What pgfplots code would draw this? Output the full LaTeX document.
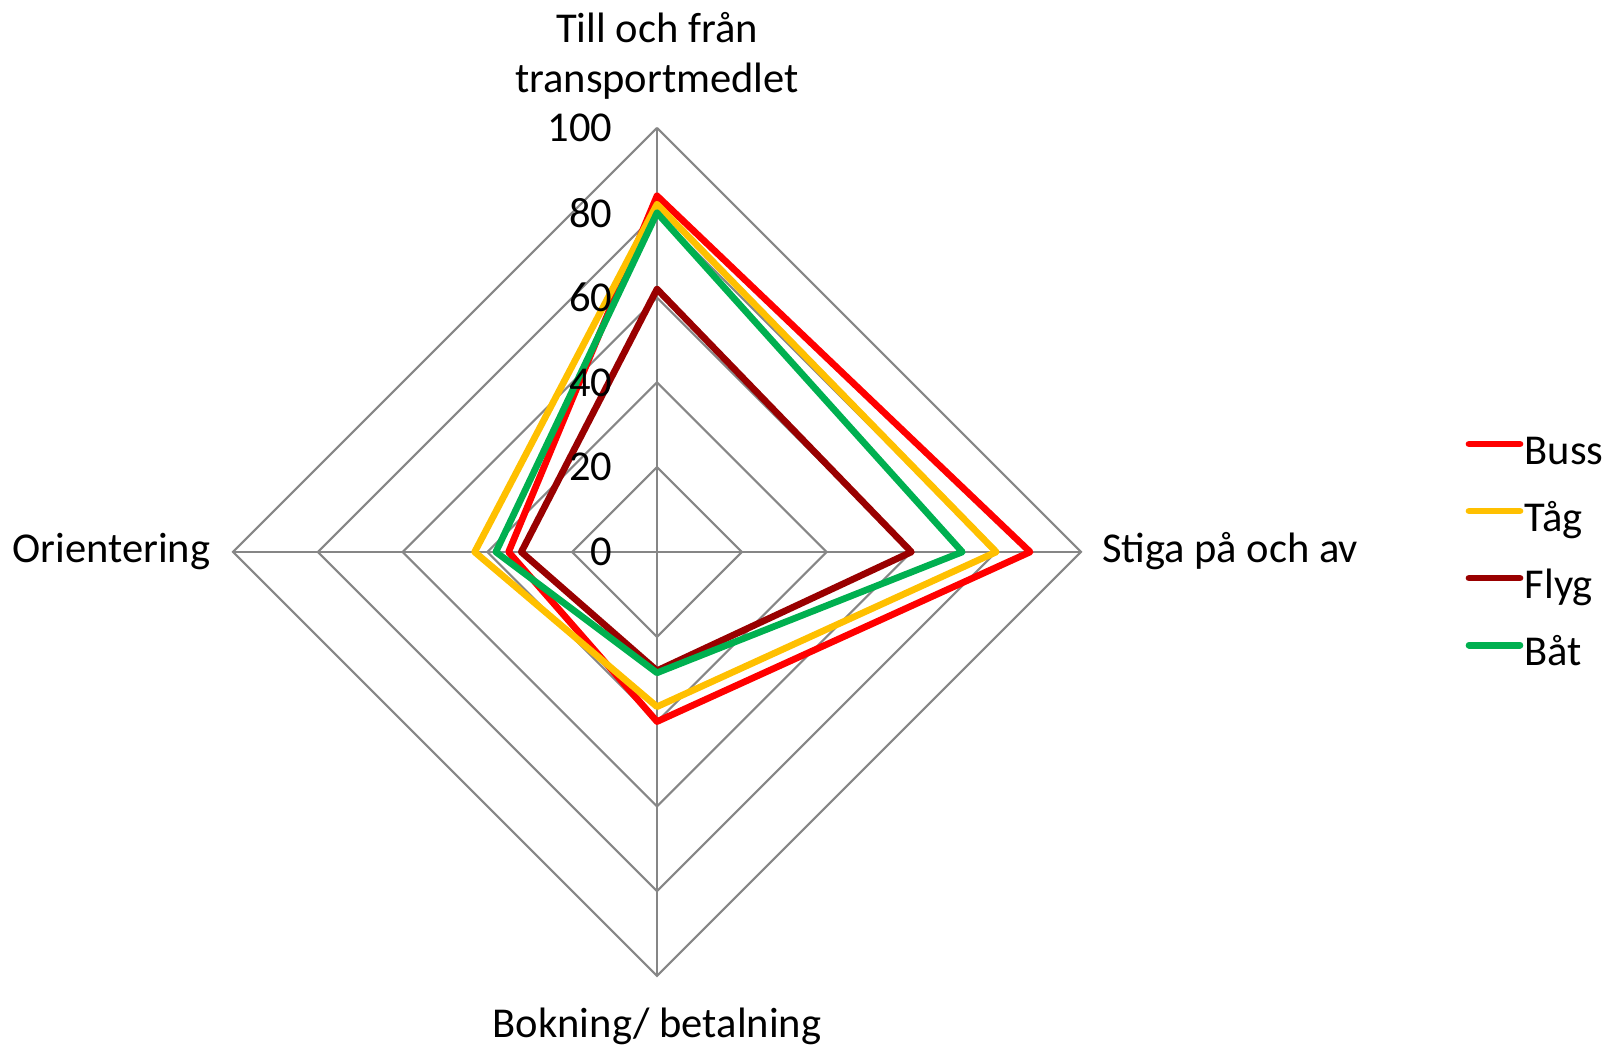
\documentclass[border=0pt]{standalone}
\usepackage{pgfplots}
\pgfplotsset{compat=1.18}
\usepackage{fontspec}
\setmainfont{Carlito}
\definecolor{cBuss}{HTML}{FF0000}
\definecolor{cTag}{HTML}{FFC000}
\definecolor{cFlyg}{HTML}{990000}
\definecolor{cBat}{HTML}{00B050}
\definecolor{cGrid}{HTML}{868686}
\begin{document}
\begin{tikzpicture}
\begin{axis}[
  scale only axis,
  width=16.2cm, height=10.49cm,
  xmin=-154.95, xmax=227.12,
  ymin=-117.22, ymax=130.19,
  hide axis, clip=false,
  font=\fontsize{12.1}{14.6}\selectfont,
  legend style={draw=none, fill=none, inner sep=0pt, at={(0.9043,0.4713)}, anchor=west,
    row sep=0.284cm, column sep=0.015cm,
    nodes={inner sep=0pt, text height=8.5pt, text depth=2.5pt, anchor=west},
    font=\fontsize{12.1}{14.6}\selectfont},
  legend cell align=left,
  legend image code/.code={\draw[#1, line cap=round] (0cm,0.1cm) -- (0.51cm,0.1cm);},
]
\path (rel axis cs:0,0) rectangle (rel axis cs:1,1);
% grid
\addplot[cGrid, line width=0.6pt, forget plot] coordinates {(0,20) (20,0) (0,-20) (-20,0) (0,20)};
\addplot[cGrid, line width=0.6pt, forget plot] coordinates {(0,40) (40,0) (0,-40) (-40,0) (0,40)};
\addplot[cGrid, line width=0.6pt, forget plot] coordinates {(0,60) (60,0) (0,-60) (-60,0) (0,60)};
\addplot[cGrid, line width=0.6pt, forget plot] coordinates {(0,80) (80,0) (0,-80) (-80,0) (0,80)};
\addplot[cGrid, line width=0.6pt, forget plot] coordinates {(0,100) (100,0) (0,-100) (-100,0) (0,100)};
\addplot[cGrid, line width=0.6pt, forget plot] coordinates {(0,0) (0,100)};
\addplot[cGrid, line width=0.6pt, forget plot] coordinates {(0,0) (100,0)};
\addplot[cGrid, line width=0.6pt, forget plot] coordinates {(0,0) (0,-100)};
\addplot[cGrid, line width=0.6pt, forget plot] coordinates {(0,0) (-100,0)};
% series: top, right, bottom, left
\addplot[cBuss, line width=1.9pt, line join=round, line cap=round] coordinates {(0,84) (88,0) (0,-40) (-35,0) (0,84)};
\addlegendentry{Buss}
\addplot[cTag, line width=1.9pt, line join=round, line cap=round] coordinates {(0,82) (80,0) (0,-36.5) (-43,0) (0,82)};
\addlegendentry{Tåg}
\addplot[cFlyg, line width=1.9pt, line join=round, line cap=round] coordinates {(0,62) (60,0) (0,-28) (-32,0) (0,62)};
\addlegendentry{Flyg}
\addplot[cBat, line width=1.9pt, line join=round, line cap=round] coordinates {(0,80) (72,0) (0,-28.5) (-38,0) (0,80)};
\addlegendentry{Båt}
% tick labels
\node[anchor=east, inner sep=0pt] at (axis cs:-10.4,0) {0};
\node[anchor=east, inner sep=0pt] at (axis cs:-10.4,20) {20};
\node[anchor=east, inner sep=0pt] at (axis cs:-10.4,40) {40};
\node[anchor=east, inner sep=0pt] at (axis cs:-10.4,60) {60};
\node[anchor=east, inner sep=0pt] at (axis cs:-10.4,80) {80};
\node[anchor=east, inner sep=0pt] at (axis cs:-10.4,100) {100};
% category labels
\node[anchor=base, inner sep=0pt] at (axis cs:0,120.2) {Till och från};
\node[anchor=base, inner sep=0pt] at (axis cs:0,108.4) {transportmedlet};
\node[anchor=base west, inner sep=0pt] at (axis cs:104.8,-2.4) {Stiga på och av};
\node[anchor=base, inner sep=0pt] at (axis cs:0,-114.6) {Bokning/ betalning};
\node[anchor=base east, inner sep=0pt] at (axis cs:-105.2,-2.4) {Orientering};
\end{axis}
\end{tikzpicture}
\end{document}
